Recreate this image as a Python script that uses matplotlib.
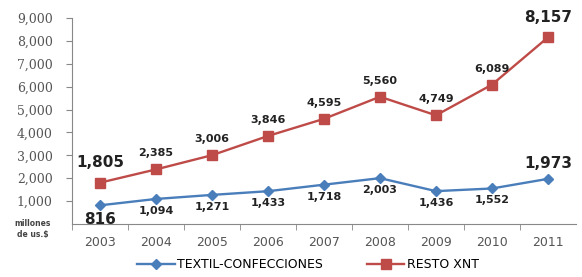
import matplotlib
matplotlib.use("Agg")
import matplotlib.pyplot as plt
from matplotlib.ticker import FuncFormatter

years = ["2003", "2004", "2005", "2006", "2007", "2008", "2009", "2010", "2011"]
textil = [816, 1094, 1271, 1433, 1718, 2003, 1436, 1552, 1973]
resto = [1805, 2385, 3006, 3846, 4595, 5560, 4749, 6089, 8157]
yticks = [1000, 2000, 3000, 4000, 5000, 6000, 7000, 8000, 9000]

blue = "#4a7ebb"
red = "#be4b48"

fig = plt.figure(figsize=(5.82, 2.77), dpi=100)
ax = fig.add_axes([72/582, 1-224/277, 504/582, (224-18)/277])

x = list(range(len(years)))
l1, = ax.plot(x, textil, color=blue, lw=1.7, marker="D", ms=5, label="TEXTIL-CONFECCIONES")
l2, = ax.plot(x, resto, color=red, lw=1.7, marker="s", ms=7, label="RESTO XNT")

ax.set_xlim(-0.5, len(years)-0.5)
ax.set_ylim(0, 9000)
ax.set_yticks(yticks)
ax.yaxis.set_major_formatter(FuncFormatter(lambda v, p: f"{int(v):,}"))
ax.tick_params(axis="y", labelsize=9, colors="#888888", labelcolor="#555555", length=4,
               direction="out", pad=10)
for t in ax.get_yticklabels():
    t.set_family("DejaVu Serif")
ax.set_xticks(x)
ax.set_xticklabels(years, fontsize=9, color="#555555")
ax.set_xticks([i + 0.5 for i in x[:-1]] + [-0.5], minor=True)
ax.tick_params(axis="x", which="major", length=0, pad=9)
ax.tick_params(axis="x", which="minor", length=4, color="#888888", direction="out")

for s in ["top", "right"]:
    ax.spines[s].set_visible(False)
ax.spines["left"].set_color("#888888")
ax.spines["bottom"].set_color("#888888")

big = {0, 8}
for i, v in enumerate(resto):
    fs = 11 if i in big else 8
    ax.annotate(f"{v:,}", (i, v), xytext=(0, 8 if i not in big else 9), textcoords="offset points",
                ha="center", va="bottom", fontsize=fs, fontweight="bold", color="#222222")
for i, v in enumerate(textil):
    fs = 11 if i in big else 8
    if i == 8:
        ax.annotate(f"{v:,}", (i, v), xytext=(0, 6), textcoords="offset points",
                    ha="center", va="bottom", fontsize=fs, fontweight="bold", color="#222222")
    else:
        ax.annotate(f"{v:,}", (i, v), xytext=(0, -5), textcoords="offset points",
                    ha="center", va="top", fontsize=fs, fontweight="bold", color="#222222")

fig.text(33/582, 1-219/277, "millones\nde us.$", fontsize=5.5, fontweight="bold", color="#444444",
         ha="center", va="top", linespacing=1.3)

fig.legend(handles=[l1, l2], loc="center", bbox_to_anchor=(308/582, 1-265/277), ncol=2,
           frameon=False, fontsize=9, columnspacing=3.5, handlelength=3.0, handletextpad=0.2)

fig.savefig("out.png", dpi=100)
